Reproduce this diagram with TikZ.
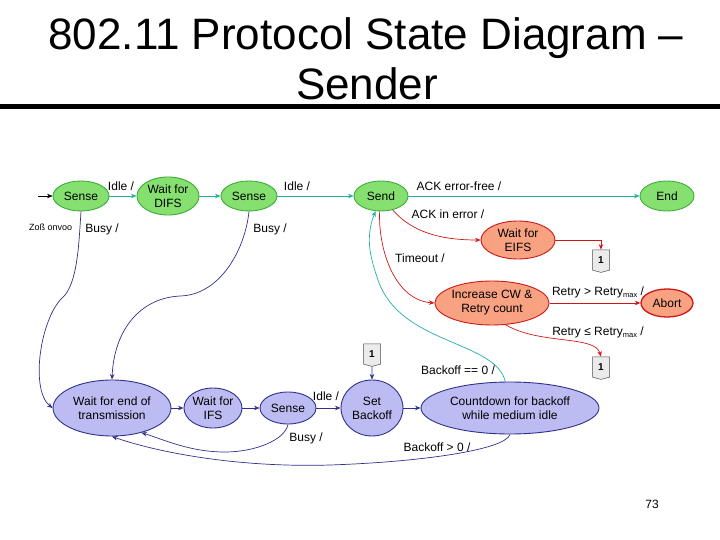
\documentclass[tikz,border=0pt]{standalone}
\usepackage{fontspec}
\setmainfont{Liberation Sans}
\usetikzlibrary{arrows.meta,shapes.symbols,shapes.geometric}
\definecolor{gfill}{HTML}{86E070}
\definecolor{gdraw}{HTML}{3AAE3A}
\definecolor{teal1}{HTML}{22B0A0}
\definecolor{rfill}{HTML}{F8A282}
\definecolor{rdraw}{HTML}{D01818}
\definecolor{bfill}{HTML}{BCBCF2}
\definecolor{bdraw}{HTML}{30308E}
\newcommand{\mysub}[1]{\raisebox{-0.35ex}{\fontsize{7.5}{8}\selectfont #1}}
\tikzset{
  st/.style={ellipse,draw,line width=0.9pt,inner sep=0pt,align=center,font=\fontsize{12}{14}\selectfont},
  gst/.style={st,fill=gfill,draw=gdraw},
  rst/.style={st,fill=rfill,draw=rdraw},
  bst/.style={st,fill=bfill,draw=bdraw},
  tarr/.style={draw=teal1,line width=0.7pt,-{Stealth[length=5.5pt,width=4.5pt]}},
  rarr/.style={draw=rdraw,line width=0.7pt,-{Stealth[length=5.5pt,width=4.5pt]}},
  barr/.style={draw=bdraw,line width=0.7pt,-{Stealth[length=5.5pt,width=4.5pt]}},
  lab/.style={font=\fontsize{12}{14}\selectfont,inner sep=0pt},
  onebox/.style={signal,signal to=south,draw=black!70,fill=black!8,line width=0.5pt,minimum width=17pt,minimum height=21pt,inner sep=0pt,font=\bfseries\fontsize{10}{11}\selectfont,signal pointer angle=150}
}
\begin{document}
\begin{tikzpicture}[x=1pt,y=-1pt]
\useasboundingbox (0,0) rectangle (720,540);
% title
\node[anchor=base,inner sep=0pt,font=\fontsize{44}{48}\selectfont] (t1) at (366,50) {802.11 Protocol State Diagram –};
\node[anchor=base,inner sep=0pt,font=\fontsize{44}{48}\selectfont] (t2) at (367,100) {Sender};
\fill (0,104.5) rectangle (720,109.5);
% states
\node[gst,minimum width=56pt,minimum height=30pt] (s1) at (81,196) {Sense};
\node[gst,minimum width=62pt,minimum height=38pt] (difs) at (168,196) {Wait for\\DIFS};
\node[gst,minimum width=56pt,minimum height=30pt] (s2) at (249,196) {Sense};
\node[gst,minimum width=54pt,minimum height=30pt] (send) at (381,196) {Send};
\node[gst,minimum width=54pt,minimum height=30pt] (end) at (667,196) {End};
\node[rst,minimum width=74pt,minimum height=38pt] (eifs) at (518,240) {Wait for\\EIFS};
\node[rst,minimum width=114pt,minimum height=44pt] (inc) at (492,303) {Increase CW \&\\Retry count};
\node[rst,minimum width=52pt,minimum height=28pt,line width=1.3pt] (abort) at (667,303) {Abort};
\node[bst,minimum width=118pt,minimum height=56pt] (wend) at (112,408) {Wait for end of\\transmission};
\node[bst,minimum width=58pt,minimum height=40pt] (wifs) at (213,408) {Wait for\\IFS};
\node[bst,minimum width=56pt,minimum height=32pt] (s3) at (288,408) {Sense};
\node[bst,minimum width=62pt,minimum height=56pt] (setb) at (372,408) {Set\\Backoff};
\node[bst,minimum width=178pt,minimum height=52pt] (cd) at (510,408) {Countdown for backoff\\while medium idle};
% connector boxes
\node[onebox] (b1) at (601,260) {1};
\node[onebox] (b2) at (601,367) {1};
\node[onebox] (b3) at (372,354) {1};
% initial
\coordinate (init) at (38,196);
\draw[line width=0.7pt,-{Stealth[length=5.5pt,width=4.5pt]}] (init) -- (s1);
\node[lab,font=\fontsize{9}{10}\selectfont,anchor=west] (garb) at (29,227) {Zoß onvoo};
% top row
\draw[tarr] (s1) -- (difs);
\node[lab] (la) at (121,186) {Idle /};
\draw[tarr] (difs) -- (s2);
\draw[tarr] (s2) -- (send);
\node[lab] (lb) at (297,186) {Idle /};
\draw[tarr] (send) -- (end);
\node[lab] (lc) at (459,186) {ACK error-free /};
% red
\draw[rarr] (send.-50) .. controls (412,232) and (440,240) .. (eifs.west);
\node[lab] (l1) at (448,214) {ACK in error /};
\draw[rarr] (send.-95) .. controls (378,250) and (395,300) .. (inc.west);
\node[lab] (l2) at (420,258) {Timeout /};
\draw[rarr] (eifs.east) -- (601,240) -- (b1.north);
\draw[rarr] (inc) -- (abort);
\node[lab] (l3) at (598,292) {Retry > Retry\mysub{max} /};
\draw[rarr] (inc.-58) .. controls (540,345) and (595,335) .. (b2.north);
\node[lab] (l4) at (598,332) {Retry ≤ Retry\mysub{max} /};
% teal back
\draw[tarr] (cd.100) .. controls (495,340) and (400,345) .. (378,280) .. controls (372,262) and (364,240) .. (send.-110);
\node[lab] (l5) at (458,370) {Backoff == 0 /};
% blue busy
\draw[barr] (s1.-90) .. controls (79,240) and (78,285) .. (62,298) .. controls (40,320) and (30,390) .. (wend.west);
\node[lab] (l6) at (102,229) {Busy /};
\draw[barr] (s2.-90) .. controls (245,250) and (220,295) .. (180,296) .. controls (140,298) and (114,330) .. (wend.north);
\node[lab] (l7) at (270,229) {Busy /};
\draw[barr] (b3) -- (setb);
\draw[barr] (wend) -- (wifs);
\draw[barr] (wifs) -- (s3);
\draw[barr] (s3) -- (setb);
\node[lab] (l8) at (326,396) {Idle /};
\draw[barr] (setb) -- (cd);
\draw[barr] (s3.-90) .. controls (285,440) and (255,452) .. (225,452) .. controls (190,452) and (165,440) .. (wend.-40);
\node[lab] (l9) at (306,438) {Busy /};
\draw[barr] (cd.-90) .. controls (505,450) and (420,462) .. (330,465) .. controls (230,468) and (150,450) .. (wend.-90);
\node[lab] (l10) at (437,447) {Backoff > 0 /};
% page number
\node[lab,font=\fontsize{12}{14}\selectfont] (pg) at (652,504) {73};
\end{tikzpicture}
\end{document}
